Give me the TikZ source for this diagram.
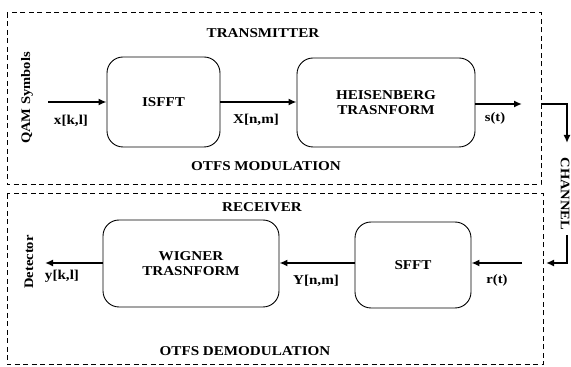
\documentclass[tikz,border=0pt]{standalone}
\usepackage{fontspec}
\setmainfont[FakeStretch=1.12]{Liberation Serif}
\usetikzlibrary{arrows.meta}
\begin{document}
\begin{tikzpicture}[x=1pt,y=1pt,
  blk/.style={draw,line width=0.9pt,rounded corners=16pt,inner sep=0pt,align=center,font=\bfseries\fontsize{13.5}{15}\selectfont},
  region/.style={draw,line width=1pt,dash pattern=on 5pt off 3.5pt},
  lbl/.style={font=\bfseries\fontsize{13.5}{15}\selectfont,inner sep=0pt},
  slbl/.style={font=\bfseries\fontsize{13}{15}\selectfont,inner sep=0pt},
  arr/.style={line width=1.8pt,-{Latex[length=8pt,width=7pt]}},
  ln/.style={line width=1.8pt}]
\useasboundingbox (0,0) rectangle (571,367);
% regions
\draw[region] (7,354) rectangle (541,182);
\draw[region] (7,173) rectangle (543,2);
% titles
\node[lbl] (tx) at (263,334) {TRANSMITTER};
\node[lbl] (mod) at (266,201) {OTFS MODULATION};
\node[lbl] (rx) at (262,160) {RECEIVER};
\node[lbl] (demod) at (245,16) {OTFS DEMODULATION};
% blocks
\node[blk,minimum width=113pt,minimum height=90pt] (isfft) at (163.5,265) {ISFFT};
\node[blk,minimum width=178pt,minimum height=89pt] (heis) at (386,264.5) {HEISENBERG\\TRASNFORM};
\node[blk,minimum width=176pt,minimum height=87pt] (wig) at (191,103.5) {WIGNER\\TRASNFORM};
\node[blk,minimum width=116pt,minimum height=86pt] (sfft) at (413,102) {SFFT};
% side labels
\node[slbl,rotate=90] (qam) at (27,269) {QAM Symbols};
\node[slbl,rotate=90] (det) at (29,105) {Detector};
\node[slbl,rotate=-90] (chan) at (565,173) {CHANNEL};
% signal labels
\node[lbl] (xkl) at (71,246) {x[k,l]};
\node[lbl] (Xnm) at (256,247) {X[n,m]};
\node[slbl] (st) at (495,249) {s(t)};
\node[slbl] (rt) at (497,87) {r(t)};
\node[lbl] (Ynm) at (316,86) {Y[n,m]};
\node[lbl] (ykl) at (62,91) {y[k,l]};
% coordinates
\coordinate (qin) at (48,265);
\coordinate (sout) at (522,263);
\coordinate (chs) at (541,263);
\coordinate (cha) at (567,224);
\coordinate (chb) at (567,132);
\coordinate (che) at (546,104);
\coordinate (rin) at (522,104);
\coordinate (dout) at (45,104);
% connectors
\draw[arr] (qin) -- (isfft.west |- qin);
\draw[arr] (isfft.east |- qin) -- (heis.west |- qin);
\draw[arr] (heis.east |- sout) -- (sout);
\draw[arr] (chs) -| (cha);
\draw[arr] (chb) |- (che);
\draw[arr] (rin) -- (sfft.east |- rin);
\draw[arr] (sfft.west |- rin) -- (wig.east |- rin);
\draw[arr] (wig.west |- dout) -- (dout);
\end{tikzpicture}
\end{document}
